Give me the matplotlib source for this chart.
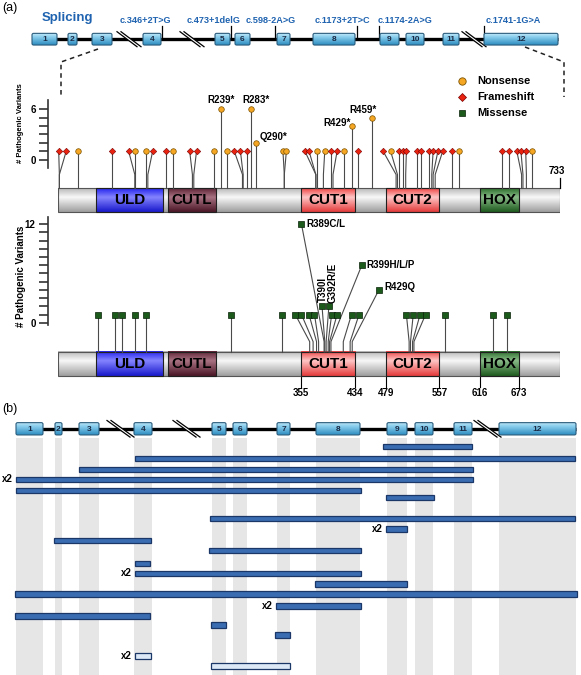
import numpy as np
import matplotlib
matplotlib.use('Agg')
import matplotlib.pyplot as plt
from matplotlib.patches import Rectangle, FancyBboxPatch, Polygon
from matplotlib.colors import LinearSegmentedColormap

plt.rcParams['font.family'] = ['Liberation Sans', 'DejaVu Sans']

# ============================ DATA ============================
exon_labels = ['1', '2', '3', '4', '5', '6', '7', '8', '9', '10', '11', '12']
# panel (a) gene schematic, exon extents in schematic units
exon_a_start = [32, 68, 92, 143, 215, 235, 277, 313, 380, 406, 443, 484]
exon_a_end = [57, 77, 112, 161, 230, 250, 290, 355, 399, 424, 459, 558]
intron_breaks_a = [117, 180, 462]

splice_variants = ['c.346+2T>G', 'c.473+1delG', 'c.598-2A>G',
                   'c.1173+2T>C', 'c.1174-2A>G', 'c.1741-1G>A']
splice_sites = [162, 231, 275, 357, 379, 484]
splice_label_left = [120, 187, 246, 315, 378, 486]

protein_length = 733
domain_names = ['ULD', 'CUTL', 'CUT1', 'CUT2', 'HOX']
domain_start = [57, 161, 355, 479, 616]
domain_end = [154, 232, 434, 557, 673]
domain_ticks = [355, 434, 479, 557, 616, 673]

# truncating variants: N = nonsense, F = frameshift
trunc_type = ['F', 'F', 'N', 'F', 'F', 'N', 'N', 'F', 'F', 'N',
              'F', 'F', 'N', 'N', 'N', 'F', 'F', 'F', 'N', 'N',
              'N', 'N', 'F', 'F', 'N', 'N', 'F', 'F', 'N', 'N',
              'F', 'N', 'F', 'N', 'F', 'F', 'F', 'F', 'F', 'F',
              'F', 'F', 'F', 'F', 'N', 'F', 'F', 'F', 'F', 'F',
              'N']
trunc_pos = [3, 3, 30, 80, 113, 114, 129, 132, 159, 168,
             197, 199, 228, 239, 248, 270, 271, 276, 283, 290,
             331, 331, 377, 377, 378, 388, 399, 402, 418, 429,
             439, 459, 494, 496, 498, 504, 508, 524, 531, 542,
             546, 548, 551, 576, 586, 649, 659, 677, 679, 684,
             692]
trunc_head = [2, 13, 30, 80, 104, 114, 129, 139, 159, 168,
              193, 203, 228, 239, 248, 258, 267, 276, 283, 290,
              329, 334, 361, 367, 378, 390, 399, 408, 418, 429,
              439, 459, 475, 486, 498, 504, 509, 524, 531, 542,
              548, 555, 562, 576, 586, 649, 659, 670, 676, 683,
              692]
trunc_count = [1, 1, 1, 1, 1, 1, 1, 1, 1, 1,
               1, 1, 1, 6, 1, 1, 1, 1, 6, 2,
               1, 1, 1, 1, 1, 1, 1, 1, 1, 4,
               1, 5, 1, 1, 1, 1, 1, 1, 1, 1,
               1, 1, 1, 1, 1, 1, 1, 1, 1, 1,
               1]
trunc_label = {13: 'R239*', 18: 'R283*', 19: 'Q290*', 29: 'R429*', 31: 'R459*'}

# missense variants
mis_pos = [60, 84, 94, 114, 130, 253, 327, 368, 373, 378,
           381, 389, 390, 392, 395, 397, 399, 417, 427, 430,
           513, 515, 518, 520, 566, 635, 655]
mis_head = [60, 84, 94, 114, 130, 253, 327, 347, 356, 367,
            375, 356, 386, 396, 400, 408, 444, 429, 440, 469,
            509, 519, 529, 537, 566, 635, 655]
mis_count = [1, 1, 1, 1, 1, 1, 1, 1, 1, 1,
             1, 12, 2, 2, 1, 1, 7, 1, 1, 4,
             1, 1, 1, 1, 1, 1, 1]
mis_label = {11: 'R389C/L', 12: 'T390I', 13: 'G392R/E', 16: 'R399H/L/P', 19: 'R429Q'}

# panel (b) gene schematic and deletions (schematic units)
exon_b_start = [16, 55, 79, 134, 212, 233, 277, 316, 387, 415, 454, 499]
exon_b_end = [43, 62, 99, 152, 226, 247, 290, 360, 407, 433, 472, 576]
intron_breaks_b = [107, 173, 474]
del_start = [383, 135, 79, 16, 16, 386, 210, 386, 54, 209,
             135, 135, 315, 15, 276, 15, 211, 275, 135, 211]
del_end = [472, 575, 473, 473, 361, 434, 575, 407, 151, 361,
           150, 361, 407, 577, 361, 150, 226, 290, 151, 290]
del_row = [446.7, 458.3, 469.3, 479.3, 490.7, 497.7, 518.3, 529, 540.7, 550.7,
           563.3, 573.3, 584, 594, 606, 616, 625, 635, 656, 666]
del_times = [1, 1, 1, 2, 1, 1, 1, 2, 1, 1,
             1, 2, 1, 1, 2, 1, 1, 1, 2, 1]
del_open = [False] * 18 + [True, True]

# ============================ STYLE ============================
W, H = 581, 675
BLUE_TXT = '#1F63B0'
NONS_C, NONS_E = '#F5A623', '#7A5200'
FRAME_C, FRAME_E = '#E8230F', '#7A0000'
MIS_C, MIS_E = '#1C5A1C', '#062006'
STEM_C = '#4A4A4A'

fig = plt.figure(figsize=(W / 100, H / 100), dpi=100)
bg = fig.add_axes([0, 0, 1, 1])
bg.set_xlim(0, W)
bg.set_ylim(H, 0)
bg.axis('off')


def fig_rect(x0, y0, x1, y1):
    return [x0 / W, 1 - y1 / H, (x1 - x0) / W, (y1 - y0) / H]


def cmap3(c0, c1, c2, mid=0.38):
    return LinearSegmentedColormap.from_list('g', [(0, c0), (mid, c1), (1, c2)])


GRAD = np.linspace(0, 1, 64).reshape(-1, 1)


def grad_fill(ax, x0, x1, yb, yt, cmap, z, clip=None):
    im = ax.imshow(GRAD, cmap=cmap, extent=(x0, x1, yb, yt), origin='upper',
                   aspect='auto', interpolation='bilinear', zorder=z)
    if clip is not None:
        im.set_clip_path(clip)
    return im


exon_cmap = cmap3('#C4E9F8', '#8DD0EE', '#2C8CC0', mid=0.3)


def draw_gene(ax, starts, ends, breaks, yc, h, bdx, bh):
    ax.plot([starts[0], ends[-1]], [yc, yc], color='black', lw=2.4,
            zorder=2, solid_capstyle='butt')
    for b in breaks:
        y0, y1 = yc - bh, yc + bh
        ax.add_patch(Polygon([(b, y0), (b + 4, y0), (b + 4 + bdx, y1), (b + bdx, y1)],
                             closed=True, fc='white', ec='none', zorder=3))
        ax.plot([b, b + bdx], [y0, y1], color='black', lw=0.9, zorder=4)
        ax.plot([b + 4, b + 4 + bdx], [y0, y1], color='black', lw=0.9, zorder=4)
    for i, (s, e) in enumerate(zip(starts, ends)):
        box = FancyBboxPatch((s, yc - h / 2), e - s, h,
                             boxstyle='round,pad=0,rounding_size=1.6',
                             fc='none', ec='#2A5C7C', lw=0.8, zorder=6)
        ax.add_patch(box)
        grad_fill(ax, s, e, yc + h / 2, yc - h / 2, exon_cmap, 5, clip=box)
        ax.text((s + e) / 2, yc + 0.3, exon_labels[i], ha='center', va='center',
                fontsize=6, fontweight='bold', color='#1B2A44', zorder=7)


# ---------------- panel (a) gene schematic ----------------
bg.text(2, 8, '(a)', fontsize=9, va='center', ha='left')
yc_a = 39.2
draw_gene(bg, exon_a_start, exon_a_end, intron_breaks_a, yc_a, 11.7, 20, 7.5)
bg.text(42, 17.5, 'Splicing', fontsize=9.5, fontweight='bold', color=BLUE_TXT,
        ha='left', va='center')
for lab, site, lx in zip(splice_variants, splice_sites, splice_label_left):
    bg.text(lx, 20.5, lab, fontsize=6.6, fontweight='bold', color=BLUE_TXT,
            ha='left', va='center')
    bg.plot([site, site], [25.5, yc_a], color='black', lw=0.9, zorder=1.5)

# dashed zoom lines
bg.plot([98, 61, 61], [49, 62, 95], color='#222222', lw=1.1, ls=(0, (3, 2.5)), zorder=1)
bg.plot([525, 564, 564], [47, 62, 97], color='#222222', lw=1.1, ls=(0, (3, 2.5)), zorder=1)

# legend
leg_y = [80.7, 96.7, 113.3]
bg.plot(461.7, leg_y[0], 'o', ms=5.3, mfc=NONS_C, mec=NONS_E, mew=0.6)
bg.plot(461.7, leg_y[1], 'D', ms=4.3, mfc=FRAME_C, mec=FRAME_E, mew=0.5)
bg.plot(461.7, leg_y[2], 's', ms=4.8, mfc=MIS_C, mec=MIS_E, mew=0.5)
for lab, yy in zip(['Nonsense', 'Frameshift', 'Missense'], leg_y):
    bg.text(477, yy, lab, fontsize=8, fontweight='bold', ha='left', va='center')

bg.text(21, 123, '# Pathogenic Variants', rotation=90, fontsize=5.5,
        fontweight='bold', ha='center', va='center')
bg.text(21, 276, '# Pathogenic Variants', rotation=90, fontsize=7,
        fontweight='bold', ha='center', va='center')

# ---------------- protein drawing ----------------
grey_cmap = cmap3('#B8B8B8', '#F8F8F8', '#9E9E9E')
dom_cmaps = [cmap3('#2424EE', '#8484FF', '#1818CC'),
             cmap3('#5E2436', '#A87282', '#4A1626'),
             cmap3('#EE4646', '#FFC6C6', '#E43A3A'),
             cmap3('#EE4646', '#FFC6C6', '#E43A3A'),
             cmap3('#2C6E2C', '#88BA88', '#1E5A1E')]


def draw_protein(ax, yb, yt):
    grad_fill(ax, 1, protein_length, yb, yt, grey_cmap, 1)
    ax.add_patch(Rectangle((1, yb), protein_length - 1, yt - yb, fc='none',
                           ec='#555555', lw=0.8, zorder=3))
    for name, s, e, cm in zip(domain_names, domain_start, domain_end, dom_cmaps):
        grad_fill(ax, s, e, yb, yt, cm, 2)
        ax.add_patch(Rectangle((s, yb), e - s, yt - yb, fc='none', ec='#202020',
                               lw=0.8, zorder=3))
        ax.text((s + e) / 2, (yb + yt) / 2, name, ha='center', va='center',
                fontsize=11, fontweight='bold', color='black', zorder=4)


def style_yaxis(ax, top, lo, hi, step_labels):
    for s in ['top', 'right', 'bottom']:
        ax.spines[s].set_visible(False)
    ax.spines['left'].set_position(('outward', 7.4))
    ax.spines['left'].set_bounds(lo, hi)
    ax.spines['left'].set_color('#333333')
    ax.spines['left'].set_linewidth(1.2)
    ax.set_xticks([])
    ax.set_yticks(list(range(0, top + 1)))
    ax.set_yticklabels([str(v) if v in step_labels else '' for v in range(0, top + 1)])
    ax.tick_params(axis='y', length=6.7, width=1.2, direction='out', color='#333333',
                   labelsize=7, pad=2)
    for t in ax.get_yticklabels():
        t.set_fontweight('bold')
    ax.patch.set_visible(False)


# ---------------- panel (a) truncating lollipops ----------------
axA = fig.add_axes(fig_rect(58, 85, 560, 215))
axA.set_xlim(1, protein_length)
axA.set_ylim(-6.63, 8.9)
barA_b, barA_t = -6.24, -3.44
draw_protein(axA, barA_b, barA_t)
elbowA = -1.8
for i, (t, p, hx, c) in enumerate(zip(trunc_type, trunc_pos, trunc_head, trunc_count)):
    axA.plot([p, p, hx], [barA_t, elbowA, c], color=STEM_C, lw=0.8, zorder=4)
for i, (t, p, hx, c) in enumerate(zip(trunc_type, trunc_pos, trunc_head, trunc_count)):
    if t == 'N':
        axA.plot(hx, c, 'o', ms=4.0, mfc=NONS_C, mec=NONS_E, mew=0.5, zorder=6, clip_on=False)
    else:
        axA.plot(hx, c, 'D', ms=3.3, mfc=FRAME_C, mec=FRAME_E, mew=0.4, zorder=6, clip_on=False)
lab_off = {13: ((0, 6.7), 'center'), 18: ((3.2, 6.7), 'center'), 19: ((2.2, 4.5), 'left'),
           29: ((-0.7, 2.4), 'right'), 31: ((-6.8, 5.5), 'center')}
for i, lab in trunc_label.items():
    off, ha = lab_off[i]
    axA.annotate(lab, (trunc_head[i], trunc_count[i]), xytext=off, textcoords='offset points',
                 ha=ha, va='center', fontsize=7, fontweight='bold', zorder=7)
axA.plot([protein_length, protein_length], [barA_t, -2.2], color='black', lw=0.9, zorder=4,
         clip_on=False)
axA.text(protein_length - 5, -1.35, str(protein_length), ha='center', va='center',
         fontsize=7, fontweight='bold')
style_yaxis(axA, 6, -1.0, 7.1, [0, 6])

# ---------------- panel (a) missense lollipops ----------------
axB = fig.add_axes(fig_rect(58, 205, 560, 400))
axB.set_xlim(1, protein_length)
axB.set_ylim(-9.4, 14.32)
barB_b, barB_t = -6.48, -3.56
draw_protein(axB, barB_b, barB_t)
elbowB = -2.3
for p, hx, c in zip(mis_pos, mis_head, mis_count):
    axB.plot([p, p, hx], [barB_t, elbowB, c], color=STEM_C, lw=0.8, zorder=4)
for p, hx, c in zip(mis_pos, mis_head, mis_count):
    axB.plot(hx, c, 's', ms=3.8, mfc=MIS_C, mec=MIS_E, mew=0.5, zorder=6, clip_on=False)
mlab_off = {11: ((3.8, 0), 'left', 'center', 0), 12: ((0.3, 3.0), 'center', 'bottom', 90),
            13: ((3.0, 2.6), 'center', 'bottom', 90), 16: ((3.6, 0), 'left', 'center', 0),
            19: ((4.1, 2.4), 'left', 'center', 0)}
for i, lab in mis_label.items():
    off, ha, va, rot = mlab_off[i]
    axB.annotate(lab, (mis_head[i], mis_count[i]), xytext=off, textcoords='offset points',
                 ha=ha, va=va, rotation=rot, fontsize=7, fontweight='bold', zorder=7)
for t in domain_ticks:
    axB.plot([t, t], [barB_b, -7.79], color='black', lw=0.8, clip_on=False)
    axB.text(t, -8.55, str(t), ha='center', va='center', fontsize=7, fontweight='bold')
style_yaxis(axB, 12, -0.3, 12.9, [0, 12])

# ---------------- panel (b) ----------------
bg.text(2, 409, '(b)', fontsize=9, va='center', ha='left')
yc_b = 428.8
for s, e in zip(exon_b_start, exon_b_end):
    bg.add_patch(Rectangle((s, 438), e - s, H - 438, fc='#E6E6E6', ec='none', zorder=0.5))
draw_gene(bg, exon_b_start, exon_b_end, intron_breaks_b, yc_b, 12.3, 23, 8.3)
for s, e, y, n, op in zip(del_start, del_end, del_row, del_times, del_open):
    fc = '#DCE8F6' if op else '#3A6CB2'
    bg.add_patch(Rectangle((s, y - 2.6), e - s, 5.2, fc=fc, ec='#1B3768', lw=0.9, zorder=3))
    if n > 1:
        bg.text(s - 3, y, 'x%d' % n, ha='right', va='center', fontsize=7,
                fontweight='bold', zorder=4)

fig.savefig('out.png', dpi=100)
